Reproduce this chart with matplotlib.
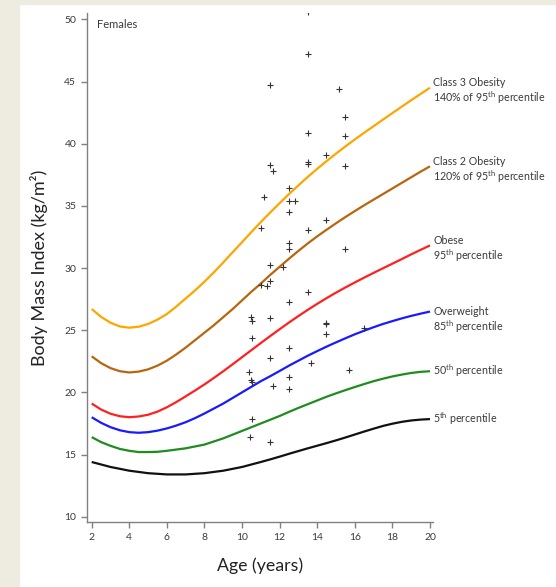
import matplotlib
matplotlib.use('Agg')
import matplotlib.pyplot as plt
from matplotlib.patches import Rectangle

# BMI-for-age curves (girls), every half year
ages = [2, 2.5, 3, 3.5, 4, 4.5, 5, 5.5, 6, 6.5, 7, 7.5, 8, 8.5, 9, 9.5, 10, 10.5, 11, 11.5,
        12, 12.5, 13, 13.5, 14, 14.5, 15, 15.5, 16, 16.5, 17, 17.5, 18, 18.5, 19, 19.5, 20]
p5 = [14.4, 14.2, 14.0, 13.85, 13.7, 13.6, 13.5, 13.45, 13.4, 13.4, 13.4, 13.45, 13.5, 13.6, 13.7, 13.85,
      14.0, 14.2, 14.4, 14.61, 14.83, 15.06, 15.28, 15.5, 15.71, 15.92, 16.14, 16.37, 16.61, 16.85, 17.08,
      17.3, 17.48, 17.63, 17.74, 17.81, 17.85]
p50 = [16.4, 16.0, 15.7, 15.45, 15.3, 15.2, 15.2, 15.22, 15.3, 15.4, 15.5, 15.65, 15.8, 16.05, 16.3, 16.6,
       16.9, 17.2, 17.5, 17.8, 18.1, 18.43, 18.75, 19.05, 19.35, 19.65, 19.92, 20.18, 20.43, 20.67, 20.9,
       21.1, 21.28, 21.43, 21.56, 21.65, 21.7]
p85 = [18.0, 17.55, 17.2, 16.95, 16.8, 16.75, 16.8, 16.92, 17.1, 17.33, 17.6, 17.93, 18.3, 18.7, 19.1, 19.55,
       20.0, 20.45, 20.9, 21.3, 21.72, 22.15, 22.55, 22.95, 23.32, 23.68, 24.02, 24.35, 24.67, 24.96, 25.24,
       25.5, 25.73, 25.95, 26.15, 26.33, 26.5]
p95 = [19.1, 18.62, 18.28, 18.08, 18.0, 18.06, 18.2, 18.45, 18.8, 19.22, 19.68, 20.15, 20.64, 21.16, 21.7,
       22.26, 22.83, 23.4, 23.97, 24.53, 25.08, 25.62, 26.14, 26.64, 27.12, 27.58, 28.02, 28.44, 28.84, 29.23,
       29.61, 29.98, 30.35, 30.72, 31.1, 31.46, 31.82]
class2 = [22.9, 22.35, 21.95, 21.7, 21.6, 21.67, 21.85, 22.15, 22.55, 23.05, 23.6, 24.2, 24.8, 25.4, 26.05,
          26.7, 27.4, 28.1, 28.75, 29.45, 30.1, 30.75, 31.38, 31.98, 32.55, 33.08, 33.6, 34.1, 34.58, 35.05,
          35.5, 35.95, 36.4, 36.85, 37.3, 37.75, 38.18]
class3 = [26.7, 26.07, 25.6, 25.3, 25.2, 25.28, 25.5, 25.85, 26.3, 26.9, 27.55, 28.2, 28.9, 29.65, 30.45,
          31.27, 32.08, 32.9, 33.7, 34.47, 35.22, 35.95, 36.65, 37.33, 37.98, 38.6, 39.2, 39.78, 40.34, 40.88,
          41.41, 41.94, 42.46, 42.98, 43.5, 44.0, 44.5]

# individual patients
pt_age = [13.5, 13.5, 11.5, 15.15, 15.5, 13.5, 15.5, 14.49, 11.5, 11.63, 13.5, 13.5, 15.5,
          12.52, 11.19, 12.52, 12.82, 12.52, 11.0, 14.49, 13.5, 12.52, 12.52, 15.5, 11.5, 12.2,
          11.0, 11.31, 11.5, 13.5, 12.52, 10.46, 10.52, 11.5, 14.49, 14.49, 16.51, 14.49, 10.52,
          12.52, 11.5, 13.67, 10.37, 10.48, 10.52, 11.63, 12.52, 12.52, 15.71, 10.52, 10.42, 11.5]
pt_bmi = [50.6, 47.21, 44.69, 44.42, 42.14, 40.83, 40.64, 39.06, 38.28, 37.80, 38.50, 38.34, 38.18,
          36.46, 35.69, 35.39, 35.39, 34.54, 33.24, 33.84, 33.06, 31.99, 31.55, 31.54, 30.24, 30.06,
          28.63, 28.58, 28.98, 28.09, 27.29, 26.08, 25.76, 25.95, 25.60, 25.47, 25.17, 24.69, 24.37,
          23.59, 22.79, 22.34, 21.61, 20.99, 20.83, 20.53, 21.26, 20.27, 21.80, 17.83, 16.43, 15.98]

plt.rcParams['font.family'] = ['Lato', 'DejaVu Sans']
plt.rcParams['mathtext.default'] = 'regular'

txt = '#3a3a3a'
axcol = '#808080'

fig = plt.figure(figsize=(5.56, 5.87), dpi=100)
# beige slide border
fig.patches.append(Rectangle((0, 0), 19 / 556, 1, transform=fig.transFigure, color='#eeece1', zorder=0))
fig.patches.append(Rectangle((0, 1 - 4 / 587), 1, 4 / 587, transform=fig.transFigure, color='#eeece1', zorder=0))

ax = fig.add_axes([86.7 / 556, 64.7 / 587, 346.3 / 556, 509.3 / 587])

curves = [
    (class3, '#ffa500', ['Class 3 Obesity', '140% of 95$^{th}$ percentile'], [4.0, -7.0]),
    (class2, '#b8650f', ['Class 2 Obesity', '120% of 95$^{th}$ percentile'], [3.6, -7.2]),
    (p95, '#ff2020', ['Obese', '95$^{th}$ percentile'], [3.8, -7.2]),
    (p85, '#1a1aff', ['Overweight', '85$^{th}$ percentile'], [0.0, -11.2]),
    (p50, '#1e8c1e', ['50$^{th}$ percentile'], [0.0]),
    (p5, '#111111', ['5$^{th}$ percentile'], [0.0]),
]

for vals, col, lines, offs in curves:
    ax.plot(ages, vals, color=col, lw=1.6, solid_capstyle='butt', solid_joinstyle='round')
    for line, dy in zip(lines, offs):
        ax.annotate(line, xy=(ages[-1], vals[-1]), xytext=(2.2, dy), textcoords='offset points',
                    va='center', ha='left', fontsize=7.7, color=txt, annotation_clip=False)

ax.plot(pt_age, pt_bmi, '+', color='#333333', ms=5, mew=0.8, ls='none')

ax.set_xlim(1.734, 20.16)
ax.set_ylim(9.55, 50.51)
ax.set_xticks(range(2, 21, 2))
ax.set_yticks(range(10, 51, 5))

for s in ['top', 'right']:
    ax.spines[s].set_visible(False)
for s in ['left', 'bottom']:
    ax.spines[s].set_color(axcol)
    ax.spines[s].set_linewidth(1.0)
ax.tick_params(direction='out', length=4.5, width=1.0, color=axcol, labelsize=7.5, labelcolor=txt, pad=3)

ax.text(0.03, 0.977, 'Females', transform=ax.transAxes, fontsize=8, color=txt, va='center', ha='left')

ax.set_xlabel('Age (years)', fontsize=12.8, color='#222222', labelpad=11)
ax.set_ylabel('Body Mass Index (kg/m²)', fontsize=13, color='#222222', labelpad=12)

fig.savefig('out.png', dpi=100)
